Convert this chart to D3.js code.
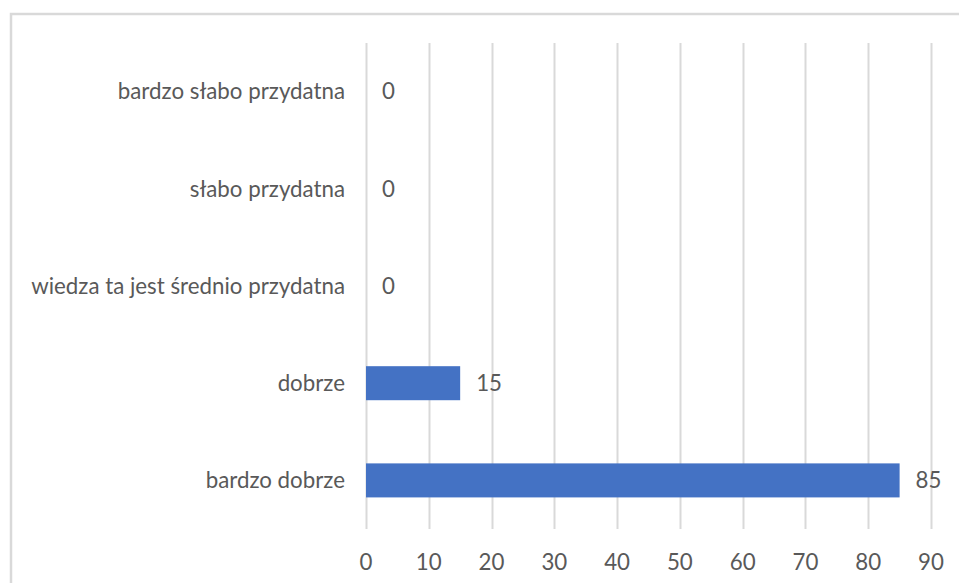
<!DOCTYPE html>
<html>
<head>
<meta charset="utf-8">
<script src="https://cdn.jsdelivr.net/npm/d3@7"></script>
<style>
  body { margin: 0; background: #fff; }
  svg { display: block; }
  text { font-family: Lato, "Open Sans", sans-serif; fill: #595959; }
</style>
</head>
<body>
<svg id="chart" width="959" height="583"></svg>
<script>
// chart data, top category first
var categories = [
    "bardzo słabo przydatna",
    "słabo przydatna",
    "wiedza ta jest średnio przydatna",
    "dobrze",
    "bardzo dobrze"
];
var values = [0, 0, 0, 15, 85];
var xTicks = [0, 10, 20, 30, 40, 50, 60, 70, 80, 90];

var svg = d3.select("#chart"),
    plotLeft = 366,
    plotRight = 931,
    plotTop = 43,
    plotBottom = 529,
    fontSize = 22.3;

var rows = categories.map(function (c, i) { return {cat: c, val: values[i]}; });

var x = d3.scaleLinear().domain([0, 90]).range([plotLeft, plotRight]);
var y = d3.scaleBand().domain(categories).range([plotTop, plotBottom]).paddingInner(0.65).paddingOuter(0.325);

// outer frame (runs off the right and bottom edge)
svg.append("rect")
    .attr("x", 11).attr("y", 14)
    .attr("width", 990).attr("height", 620)
    .attr("fill", "none")
    .attr("stroke", "#d9d9d9")
    .attr("stroke-width", 2.5);

// vertical gridlines
svg.append("g")
    .selectAll("line")
    .data(xTicks)
    .enter()
    .append("line")
    .attr("x1", function (d) { return Math.round(x(d)) + 0.5; })
    .attr("x2", function (d) { return Math.round(x(d)) + 0.5; })
    .attr("y1", plotTop)
    .attr("y2", plotBottom)
    .attr("stroke", "#d9d9d9")
    .attr("stroke-width", 2);

// bars
svg.append("g")
    .selectAll("rect")
    .data(rows)
    .enter()
    .append("rect")
    .attr("x", x(0))
    .attr("y", function (d) { return y(d.cat); })
    .attr("width", function (d) { return x(d.val) - x(0); })
    .attr("height", y.bandwidth())
    .attr("fill", "#4472c4");

// value labels
svg.append("g")
    .selectAll("text")
    .data(rows)
    .enter()
    .append("text")
    .attr("x", function (d) { return x(d.val) + 16; })
    .attr("y", function (d) { return y(d.cat) + y.bandwidth() / 2; })
    .attr("dy", "0.35em")
    .style("font-size", fontSize + "px")
    .text(function (d) { return d.val; });

// category labels
svg.append("g")
    .selectAll("text")
    .data(categories)
    .enter()
    .append("text")
    .attr("x", 345)
    .attr("y", function (d) { return y(d) + y.bandwidth() / 2; })
    .attr("dy", "0.35em")
    .attr("text-anchor", "end")
    .style("font-size", fontSize + "px")
    .text(function (d) { return d; });

// x tick labels
svg.append("g")
    .selectAll("text")
    .data(xTicks)
    .enter()
    .append("text")
    .attr("x", function (d) { return x(d); })
    .attr("y", 562)
    .attr("dy", "0.35em")
    .attr("text-anchor", "middle")
    .style("font-size", fontSize + "px")
    .text(function (d) { return d; });
</script>
</body>
</html>
